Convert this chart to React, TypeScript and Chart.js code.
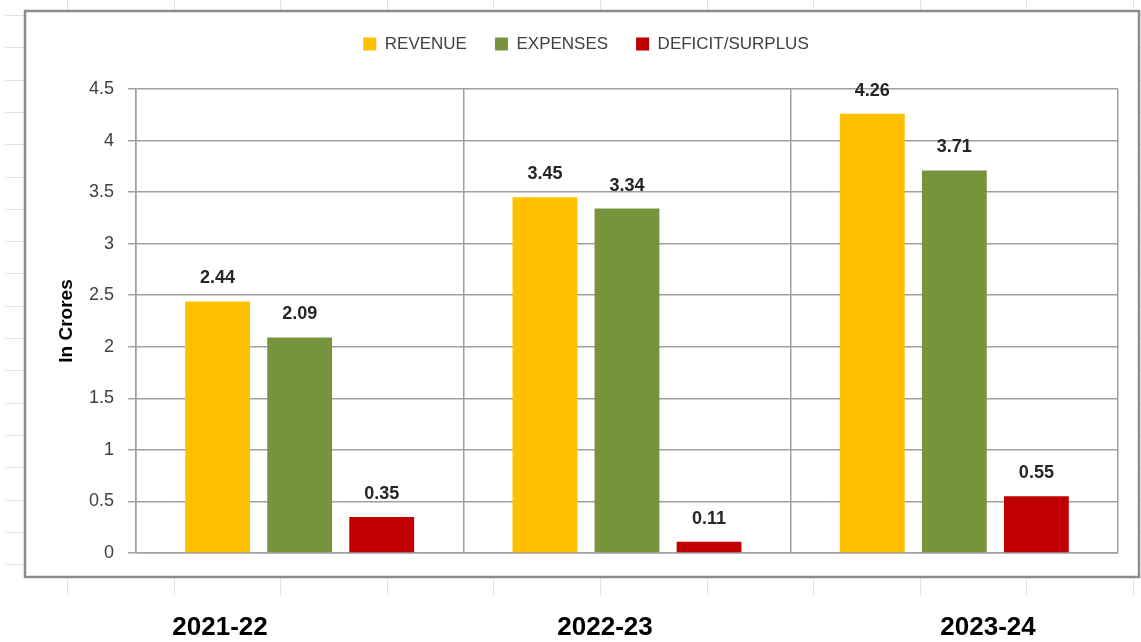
import React, { useEffect, useRef } from 'react';
import { Chart, registerables } from 'chart.js';

Chart.register(...registerables);

// ---- data ----
const categories = ['2021-22', '2022-23', '2023-24'];
const seriesNames = ['REVENUE', 'EXPENSES', 'DEFICIT/SURPLUS'];
const revenue = [2.44, 3.45, 4.26];
const expenses = [2.09, 3.34, 3.71];
const deficitSurplus = [0.35, 0.11, 0.55];
const yAxisTitle = 'In Crores';
const yMin = 0;
const yMax = 4.5;
const yStep = 0.5;

const seriesColors = ['#FFC000', '#77933C', '#C00000'];
const FONT = "'Liberation Sans', Arial, sans-serif";
const GRID = '#a0a0a0';

const sheetPlugin = {
  id: 'sheetBackground',
  beforeDraw(chart: any) {
    const { ctx, width, height } = chart;
    ctx.save();
    ctx.fillStyle = '#ffffff';
    ctx.fillRect(0, 0, width, height);
    // faint spreadsheet cell lines
    ctx.strokeStyle = '#e3e3e3';
    ctx.lineWidth = 1;
    const sheetBottom = 595;
    for (let x = 67; x < width; x += 106.6) {
      ctx.beginPath();
      ctx.moveTo(Math.round(x) + 0.5, 0);
      ctx.lineTo(Math.round(x) + 0.5, sheetBottom);
      ctx.stroke();
    }
    for (let y = 15; y <= sheetBottom + 1; y += 32.3) {
      ctx.beginPath();
      ctx.moveTo(5, Math.round(y) + 0.5);
      ctx.lineTo(width, Math.round(y) + 0.5);
      ctx.stroke();
    }
    // chart object box
    ctx.fillStyle = '#ffffff';
    ctx.fillRect(25, 11, 1114, 566);
    ctx.strokeStyle = '#8c8c8c';
    ctx.lineWidth = 2.5;
    ctx.strokeRect(25, 11, 1114, 566);
    ctx.restore();
  },
};

const dataLabelPlugin = {
  id: 'barValueLabels',
  afterDatasetsDraw(chart: any) {
    const { ctx } = chart;
    ctx.save();
    ctx.font = `bold 18px ${FONT}`;
    ctx.fillStyle = '#262626';
    ctx.textAlign = 'center';
    ctx.textBaseline = 'middle';
    chart.data.datasets.forEach((ds: any, i: number) => {
      const meta = chart.getDatasetMeta(i);
      meta.data.forEach((bar: any, j: number) => {
        ctx.fillText(Number(ds.data[j]).toFixed(2), bar.x, bar.y - 23);
      });
    });
    ctx.restore();
  },
};

const yearLabelPlugin = {
  id: 'yearLabels',
  afterDraw(chart: any) {
    const { ctx } = chart;
    const xs = [220, 605, 988];
    ctx.save();
    ctx.font = `bold 26px ${FONT}`;
    ctx.fillStyle = '#000000';
    ctx.textAlign = 'center';
    ctx.textBaseline = 'middle';
    categories.forEach((c, i) => ctx.fillText(c, xs[i], 628));
    ctx.restore();
  },
};

export default function App() {
  const canvasRef = useRef<HTMLCanvasElement | null>(null);

  useEffect(() => {
    if (!canvasRef.current) return;
    const chart = new Chart(canvasRef.current, {
      type: 'bar',
      data: {
        labels: categories,
        datasets: [
          { label: seriesNames[0], data: revenue, backgroundColor: seriesColors[0], borderWidth: 0 },
          { label: seriesNames[1], data: expenses, backgroundColor: seriesColors[1], borderWidth: 0 },
          { label: seriesNames[2], data: deficitSurplus, backgroundColor: seriesColors[2], borderWidth: 0 },
        ],
      },
      options: {
        responsive: false,
        animation: false,
        devicePixelRatio: 1,
        datasets: { bar: { categoryPercentage: 0.752, barPercentage: 0.79 } },
        layout: { padding: { left: 54, right: 23, top: 7.5, bottom: 89 } },
        plugins: {
          legend: {
            display: true,
            position: 'top',
            labels: {
              boxWidth: 13,
              boxHeight: 13,
              padding: 28,
              color: '#404040',
              font: { family: FONT, size: 17 },
            },
          },
          title: {
            display: true,
            text: '',
            weight: 500,
            font: { size: 10, lineHeight: 1 },
            padding: { top: 16.5, bottom: 0 },
          } as any,
          tooltip: { enabled: false },
        },
        scales: {
          x: {
            type: 'category',
            grid: { offset: true, color: GRID, lineWidth: 1.5, drawTicks: false },
            border: { color: GRID, width: 1.5 },
            ticks: { display: false },
          },
          y: {
            min: yMin,
            max: yMax,
            ticks: {
              stepSize: yStep,
              color: '#404040',
              padding: 14,
              font: { family: FONT, size: 18 },
              callback: (v: any) => String(Math.round(Number(v) * 100) / 100),
            },
            grid: { color: GRID, lineWidth: 1.5, drawTicks: true, tickLength: 8 },
            border: { color: GRID, width: 1.5 },
            title: {
              display: true,
              text: yAxisTitle,
              color: '#000000',
              font: { family: FONT, size: 19, weight: 'bold', lineHeight: 1.2 },
              padding: { top: 1.6, bottom: 0 },
            },
            afterFit: (scale: any) => {
              scale.width = 82;
            },
          },
        },
      },
      plugins: [sheetPlugin, dataLabelPlugin, yearLabelPlugin],
    } as any);
    return () => chart.destroy();
  }, []);

  return (
    <div style={{ position: 'absolute', left: 0, top: 0, width: 1141, height: 642, background: '#fff' }}>
      <canvas ref={canvasRef} width={1141} height={642} style={{ display: 'block' }} />
    </div>
  );
}
